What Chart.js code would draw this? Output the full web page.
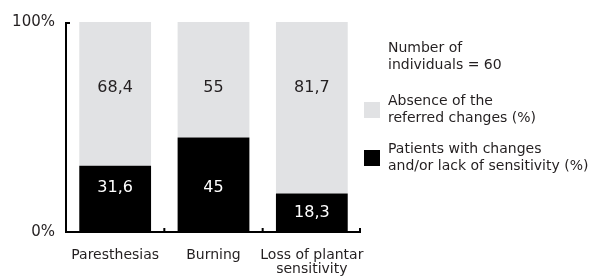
<!DOCTYPE html>
<html>
<head>
<meta charset="utf-8">
<script src="https://cdn.jsdelivr.net/npm/chart.js@4.4.1/dist/chart.umd.min.js"></script>
<style>
  html, body { margin: 0; padding: 0; background: #fff; }
  #wrap { width: 598px; height: 276px; }
</style>
</head>
<body>
<div id="wrap"><canvas id="chart"></canvas></div>
<script>
var categories = [['Paresthesias'], ['Burning'], ['Loss of plantar', 'sensitivity']];
var withChanges = [31.6, 45, 18.3];
var absence = [68.4, 55, 81.7];
var yTicks = [0, 100];
var seriesNames = [['Patients with changes', 'and/or lack of sensitivity (%)'], ['Absence of the', 'referred changes (%)']];
var noteLines = ['Number of', 'individuals = 60'];

var FONT = '"DejaVu Sans", sans-serif';
var TEXT = '#231f20';

function fmt(v) { return String(v).replace('.', ','); }

var labelsPlugin = {
    id: 'labels',
    afterDatasetsDraw: function(chart) {
        var ctx = chart.ctx;
        var y = chart.scales.y;
        ctx.save();
        ctx.font = '16px ' + FONT;
        ctx.textAlign = 'center';
        ctx.textBaseline = 'middle';
        chart.data.datasets.forEach(function(ds, di) {
            var meta = chart.getDatasetMeta(di);
            meta.data.forEach(function(bar, i) {
                var v = ds.data[i];
                var lo = di === 0 ? 0 : withChanges[i];
                var hi = lo + v;
                // labels sit at a common height unless the segment is too short
                var level = di === 0 ? 21 : 68.6;
                var pos = (level - lo > 6 && hi - level > 6) ? level : (lo + hi) / 2;
                ctx.fillStyle = di === 0 ? '#fff' : TEXT;
                ctx.fillText(fmt(v), bar.x, y.getPixelForValue(pos));
            });
        });
        ctx.restore();
    },
    afterDraw: function(chart) {
        var ctx = chart.ctx;
        var a = chart.chartArea;
        var x = chart.scales.x;
        ctx.save();
        ctx.strokeStyle = '#000';
        ctx.lineWidth = 2;
        // y axis with small top tick, x axis with small inward ticks
        ctx.beginPath();
        ctx.moveTo(a.left + 4, a.top + 1);
        ctx.lineTo(a.left, a.top + 1);
        ctx.lineTo(a.left, a.bottom);
        ctx.lineTo(a.right, a.bottom);
        ctx.stroke();
        ctx.beginPath();
        for (var i = 0; i < categories.length; i++) {
            var bx = i < categories.length - 1 ? (x.getPixelForValue(i) + x.getPixelForValue(i + 1)) / 2 : a.right - 1;
            ctx.moveTo(bx, a.bottom);
            ctx.lineTo(bx, a.bottom - 4);
        }
        ctx.stroke();

        // legend
        var lx = a.right + 3;
        var tx = a.right + 27;
        ctx.font = '14px ' + FONT;
        ctx.fillStyle = TEXT;
        ctx.textAlign = 'left';
        ctx.textBaseline = 'middle';
        ctx.fillText(noteLines[0], tx, 48);
        ctx.fillText(noteLines[1], tx, 65);
        var rows = [{ds: 1, y: 101}, {ds: 0, y: 149}];
        rows.forEach(function(r) {
            var ds = chart.data.datasets[r.ds];
            ctx.fillStyle = ds.backgroundColor;
            ctx.fillRect(lx, r.y + 1, 16, 16);
            ctx.fillStyle = TEXT;
            ctx.fillText(seriesNames[r.ds][0], tx, r.y);
            ctx.fillText(seriesNames[r.ds][1], tx, r.y + 17);
        });
        ctx.restore();
    }
};

new Chart(document.getElementById('chart'), {
    type: 'bar',
    data: {
        labels: categories,
        datasets: [
            { label: seriesNames[0].join(' '), data: withChanges, backgroundColor: '#000000', barPercentage: 0.73, categoryPercentage: 1 },
            { label: seriesNames[1].join(' '), data: absence, backgroundColor: '#e1e2e4', barPercentage: 0.73, categoryPercentage: 1 }
        ]
    },
    options: {
        responsive: true,
        maintainAspectRatio: false,
        animation: false,
        layout: { padding: { top: 22, right: 237, left: 0, bottom: 0 } },
        plugins: { legend: { display: false }, tooltip: { enabled: false } },
        scales: {
            x: {
                stacked: true,
                grid: { display: false },
                border: { display: false },
                ticks: { color: TEXT, font: { family: FONT, size: 14, lineHeight: 0.95 }, padding: 9, maxRotation: 0, autoSkip: false },
                afterFit: function(s) { s.height = 44; }
            },
            y: {
                stacked: true,
                min: 0,
                max: 100,
                grid: { display: false },
                border: { display: false },
                afterBuildTicks: function(s) { s.ticks = yTicks.map(function(v) { return {value: v}; }); },
                ticks: {
                    color: TEXT,
                    font: { family: FONT, size: 15 },
                    padding: 3,
                    callback: function(v) { return v + '%'; }
                },
                afterFit: function(s) { s.width = 66; }
            }
        }
    },
    plugins: [labelsPlugin]
});
</script>
</body>
</html>
